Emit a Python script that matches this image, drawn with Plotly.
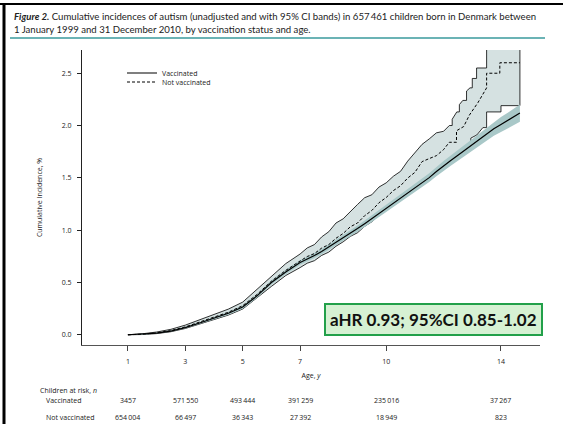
import plotly.graph_objects as go

# ---------------- data ----------------
VAC_AGE = [1.0, 1.5, 2.0, 2.5, 3.0, 3.5, 4.0, 4.5, 5.0, 5.5, 6.0, 6.5, 7.0, 7.25, 7.5, 7.75,
           8.0, 8.25, 8.5, 8.75, 9.0, 9.25, 9.5, 9.75, 10.0, 10.25, 10.5, 10.75, 11.0, 11.25,
           11.5, 11.75, 12.0, 12.25, 12.5, 12.75, 13.0, 13.25, 13.5, 13.75, 14.0, 14.25, 14.5, 14.66]
VAC = [0.000, 0.004, 0.015, 0.035, 0.068, 0.112, 0.158, 0.205, 0.265, 0.372, 0.500, 0.600, 0.690,
       0.722, 0.757, 0.795, 0.838, 0.882, 0.925, 0.970, 1.015, 1.062, 1.110, 1.160, 1.210, 1.255,
       1.302, 1.350, 1.400, 1.452, 1.502, 1.560, 1.615, 1.665, 1.715, 1.765, 1.815, 1.866, 1.920,
       1.970, 2.010, 2.050, 2.090, 2.120]
VAC_LO = [0.000, 0.001, 0.011, 0.029, 0.060, 0.102, 0.146, 0.191, 0.249, 0.354, 0.480, 0.579, 0.668,
          0.699, 0.733, 0.770, 0.812, 0.855, 0.897, 0.941, 0.985, 1.031, 1.078, 1.127, 1.176, 1.220,
          1.266, 1.312, 1.361, 1.411, 1.459, 1.515, 1.568, 1.616, 1.663, 1.710, 1.757, 1.805, 1.855,
          1.902, 1.938, 1.975, 2.012, 2.035]
VAC_HI = [0.000, 0.007, 0.019, 0.041, 0.076, 0.122, 0.170, 0.219, 0.281, 0.390, 0.520, 0.621, 0.712,
          0.745, 0.781, 0.820, 0.864, 0.909, 0.953, 0.999, 1.045, 1.093, 1.142, 1.193, 1.244, 1.290,
          1.338, 1.388, 1.439, 1.493, 1.545, 1.605, 1.662, 1.714, 1.767, 1.820, 1.873, 1.927, 1.985,
          2.038, 2.082, 2.125, 2.168, 2.200]

NV_AGE = [1.0, 1.5, 2.0, 2.5, 3.0, 3.5, 4.0, 4.5, 5.0, 5.5, 6.0, 6.5, 7.0, 7.25, 7.5, 7.75,
          8.0, 8.25, 8.5, 8.75, 9.0, 9.25, 9.5, 9.75, 10.0, 10.25, 10.5, 10.75, 11.0, 11.25,
          11.5, 11.75, 12.0, 12.2, 12.45, 12.45, 12.7, 12.9, 13.2, 13.5, 13.5, 13.96, 13.96, 14.66]
NV = [0.000, 0.005, 0.018, 0.040, 0.075, 0.120, 0.168, 0.215, 0.278, 0.385, 0.512, 0.615, 0.705,
      0.748, 0.776, 0.828, 0.862, 0.922, 0.968, 1.032, 1.068, 1.138, 1.188, 1.262, 1.312, 1.378,
      1.424, 1.498, 1.552, 1.655, 1.684, 1.712, 1.770, 1.840, 1.840, 1.950, 1.990, 2.100, 2.220,
      2.360, 2.500, 2.500, 2.600, 2.600]

NV_HI_AGE = [1.0, 1.5, 2.0, 2.5, 3.0, 3.5, 4.0, 4.5, 5.0, 5.5, 6.0, 6.5, 7.0, 7.25, 7.5, 7.75,
             8.0, 8.25, 8.5, 8.75, 9.0, 9.25, 9.5, 9.75, 10.0, 10.25, 10.5, 10.75, 11.0, 11.25,
             11.5, 11.75, 12.0, 12.2, 12.3, 12.3, 12.46, 12.55, 12.55, 12.67, 12.8, 12.8, 12.92,
             13.0, 13.0, 13.15, 13.15, 13.5, 13.5, 14.66]
NV_HI = [0.000, 0.009, 0.026, 0.052, 0.092, 0.142, 0.192, 0.245, 0.312, 0.432, 0.556, 0.680, 0.772,
         0.830, 0.862, 0.935, 0.985, 1.068, 1.108, 1.180, 1.245, 1.310, 1.338, 1.412, 1.452, 1.515,
         1.562, 1.660, 1.738, 1.820, 1.872, 1.930, 1.945, 2.000, 2.000, 2.060, 2.130, 2.130, 2.200,
         2.240, 2.240, 2.330, 2.360, 2.360, 2.450, 2.450, 2.550, 2.550, 2.900, 2.900]

NV_LO_AGE = [1.0, 1.5, 2.0, 2.5, 3.0, 3.5, 4.0, 4.5, 5.0, 5.5, 6.0, 6.5, 7.0, 7.25, 7.5, 7.75,
             8.0, 8.25, 8.5, 8.75, 9.0, 9.25, 9.5, 9.75, 10.0, 10.25, 10.5, 10.75, 11.0, 11.25,
             11.5, 11.75, 12.0, 12.3, 12.7, 12.95, 12.95, 13.16, 13.37, 13.5, 13.5, 14.0, 14.0, 14.66]
NV_LO = [0.000, 0.002, 0.011, 0.029, 0.060, 0.100, 0.146, 0.188, 0.246, 0.352, 0.462, 0.566, 0.642,
         0.684, 0.708, 0.758, 0.790, 0.846, 0.888, 0.940, 0.975, 1.036, 1.080, 1.146, 1.190, 1.246,
         1.284, 1.346, 1.384, 1.460, 1.494, 1.550, 1.596, 1.650, 1.750, 1.830, 1.880, 1.910, 1.980,
         1.980, 2.130, 2.130, 2.190, 2.190]

TICK_AGES = [1, 3, 5, 7, 10, 14]
Y_TICKS = [0.0, 0.5, 1.0, 1.5, 2.0, 2.5]
VAC_RISK = ["3457", "571\u2009550", "493\u2009444", "391\u2009259", "235\u2009016", "37\u2009267"]
NOT_VAC_RISK = ["654\u2009004", "66\u2009497", "36\u2009343", "27\u2009392", "18\u2009949", "823"]

TITLE_1 = ("<b><i>Figure 2.</i></b> Cumulative incidences of autism (unadjusted and with 95% CI bands) "
           "in 657\u2009461 children born in Denmark between")
TITLE_2 = "1 January 1999 and 31 December 2010, by vaccination status and age."
HR_TEXT = "aHR 0.93; 95%CI 0.85-1.02"

# ---------------- layout geometry (pixels) ----------------
W, H = 563, 424
L, R, T, B = 82, 540, 50, 345


def px(x):
    return (x - L) / (R - L)


def py(y):
    return (B - y) / (B - T)


FONT = "Open Sans"
TXT = dict(family=FONT, size=7, color="#222")
fig = go.Figure()

# Not-vaccinated CI band (closed polygon with black outline)
fig.add_trace(go.Scatter(
    x=NV_HI_AGE + NV_LO_AGE[::-1], y=NV_HI + NV_LO[::-1],
    mode="lines", fill="toself", fillcolor="#d5e1e1",
    line=dict(color="black", width=0.8), showlegend=False, hoverinfo="skip"))
# Vaccinated CI band
fig.add_trace(go.Scatter(
    x=VAC_AGE + VAC_AGE[::-1], y=VAC_HI + VAC_LO[::-1],
    mode="lines", fill="toself", fillcolor="#a9c8c8",
    line=dict(color="rgba(0,0,0,0)", width=0), showlegend=False, hoverinfo="skip"))
# Not vaccinated estimate
fig.add_trace(go.Scatter(
    x=NV_AGE, y=NV, mode="lines", name="Not vaccinated", legend="legend2",
    line=dict(color="black", width=1, dash="3px,2px")))
# Vaccinated estimate
fig.add_trace(go.Scatter(
    x=VAC_AGE, y=VAC, mode="lines", name="Vaccinated", legend="legend",
    line=dict(color="black", width=1.2)))

ann = []
ann.append(dict(text=TITLE_1, x=px(12), y=py(16), xref="paper", yref="paper",
                xanchor="left", yanchor="middle", showarrow=False,
                font=dict(family="Lato", size=9.6, color="#222")))
ann.append(dict(text=TITLE_2, x=px(12), y=py(29), xref="paper", yref="paper",
                xanchor="left", yanchor="middle", showarrow=False,
                font=dict(family="Lato", size=9.6, color="#222")))
ann.append(dict(text=HR_TEXT, x=px(433), y=py(319), xref="paper", yref="paper",
                xanchor="center", yanchor="middle", showarrow=False,
                bgcolor="#d6f1d3", bordercolor="#22a04a", borderwidth=2, borderpad=4,
                font=dict(family="Lato", size=17, color="#111", weight="bold")))
# risk table
ann.append(dict(text="Children at risk, <i>n</i>", x=px(38), y=py(390), xref="paper", yref="paper",
                xanchor="left", yanchor="middle", showarrow=False, font=TXT))
ann.append(dict(text="Vaccinated", x=px(44), y=py(400), xref="paper", yref="paper",
                xanchor="left", yanchor="middle", showarrow=False, font=TXT))
ann.append(dict(text="Not vaccinated", x=px(44), y=py(417), xref="paper", yref="paper",
                xanchor="left", yanchor="middle", showarrow=False, font=TXT))
for a, v, n in zip(TICK_AGES, VAC_RISK, NOT_VAC_RISK):
    ann.append(dict(text=v, x=a, y=py(400), xref="x", yref="paper", xanchor="center",
                    yanchor="middle", showarrow=False, font=TXT))
    ann.append(dict(text=n, x=a, y=py(417), xref="x", yref="paper", xanchor="center",
                    yanchor="middle", showarrow=False, font=TXT))

shapes = [
    dict(type="line", xref="paper", yref="paper", x0=px(0), x1=px(W), y0=py(4), y1=py(4),
         line=dict(color="black", width=2)),
    dict(type="line", xref="paper", yref="paper", x0=px(4), x1=px(4), y0=py(4), y1=py(H),
         line=dict(color="black", width=3)),
    dict(type="line", xref="paper", yref="paper", x0=px(10), x1=px(545), y0=py(38), y1=py(38),
         line=dict(color="#3a9a9c", width=1.5)),
]

LEG = dict(xanchor="left", yanchor="middle", bgcolor="rgba(0,0,0,0)", font=TXT,
           itemwidth=30, borderwidth=0)

fig.update_layout(
    width=W, height=H,
    margin=dict(l=L, r=W - R, t=T, b=H - B),
    paper_bgcolor="white", plot_bgcolor="white",
    font=TXT,
    showlegend=True,
    legend=dict(x=px(122), y=py(73), **LEG),
    legend2=dict(x=px(122), y=py(82), **LEG),
    annotations=ann, shapes=shapes,
    xaxis=dict(range=[-0.6, 15.36], tickvals=TICK_AGES, ticktext=[str(t) for t in TICK_AGES],
               showgrid=False, zeroline=False, showline=True, linecolor="#555", linewidth=1.2,
               ticks="outside", ticklen=5, tickcolor="#444", ticklabelstandoff=4,
               tickfont=TXT,
               title=dict(text="Age, <i>y</i>", standoff=8, font=TXT)),
    yaxis=dict(range=[-0.098, 2.722], tickvals=Y_TICKS, tickformat=".1f",
               showgrid=False, zeroline=False, showline=True, linecolor="#222", linewidth=1,
               ticks="outside", ticklen=4, tickcolor="#222", ticklabelstandoff=4,
               tickfont=TXT,
               title=dict(text="Cumulative Incidence, %", standoff=18, font=TXT)),
)

fig.write_html("out.html", config={"displayModeBar": False}, post_script=(
    "document.body.style.margin='0';document.body.style.padding='0';"
    "document.body.style.overflow='hidden';"))
